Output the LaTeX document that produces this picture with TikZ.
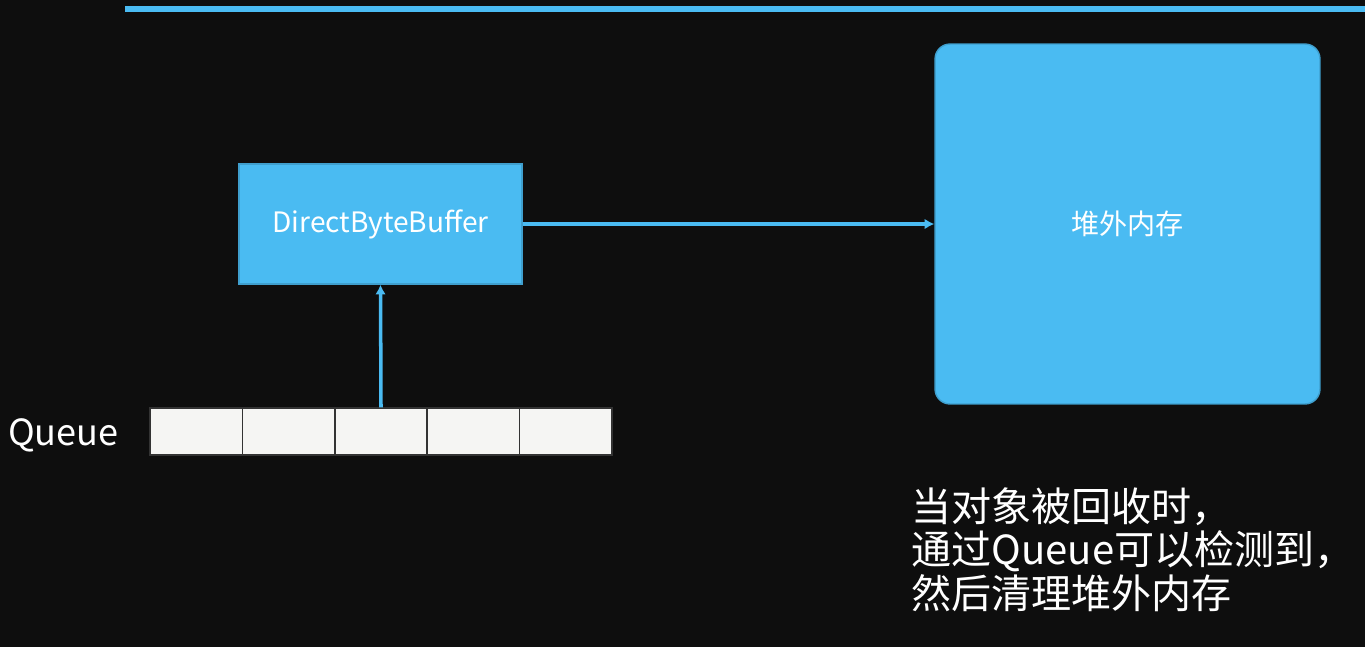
\documentclass[tikz,border=0pt]{standalone}
\usepackage{fontspec}
\setmainfont{Noto Sans CJK SC}
\usepackage{tikz}
\usetikzlibrary{arrows.meta, positioning}
\definecolor{board}{RGB}{14,14,14}
\definecolor{skyblue}{RGB}{74,187,242}
\definecolor{cellgray}{RGB}{245,245,243}

\begin{document}
\begin{tikzpicture}[x=0.02cm, y=-0.02cm,
    bluebox/.style={draw=skyblue!85!black, fill=skyblue, thick, text=white, font=\fontsize{16}{19}\selectfont},
    cell/.style={draw=black!80, fill=cellgray, thick, minimum width=1.848cm, minimum height=0.94cm, inner sep=0pt},
    link/.style={draw=skyblue, line width=2pt, -{Latex[length=5.5pt, width=6pt]}}
]
    % Board background
    \fill[board] (0,0) rectangle (1365,647);
    \useasboundingbox (0,0) rectangle (1365,647);
    \draw[skyblue, line width=3pt] (125,9) -- (1365,9);

    % Object and off-heap memory
    \node[bluebox, minimum width=5.66cm, minimum height=2.4cm] (buf) at (380.5,224) {DirectByteBuffer};
    \node[bluebox, rounded corners=0.3cm, minimum width=7.7cm, minimum height=7.2cm] (heap) at (1127.5,224) {堆外内存};

    % Reference queue
    \foreach \i in {0,...,4}
        \node[cell] (q\i) at (196.2+92.4*\i,431.5) {};
    \node[anchor=west, text=white, font=\fontsize{20.5}{25}\selectfont] (qlabel) at (2,435) {Queue};

    % Links
    \draw[link] (buf.east) -- (heap.west);
    \draw[link] (q2.north) -- (buf.south);

    % Note
    \node[anchor=north west, align=left, text=white, inner sep=0pt, font=\fontsize{22.8}{24.8}\selectfont] (note) at (911,487) {当对象被回收时，\\通过Queue可以检测到，\\然后清理堆外内存};
\end{tikzpicture}
\end{document}
